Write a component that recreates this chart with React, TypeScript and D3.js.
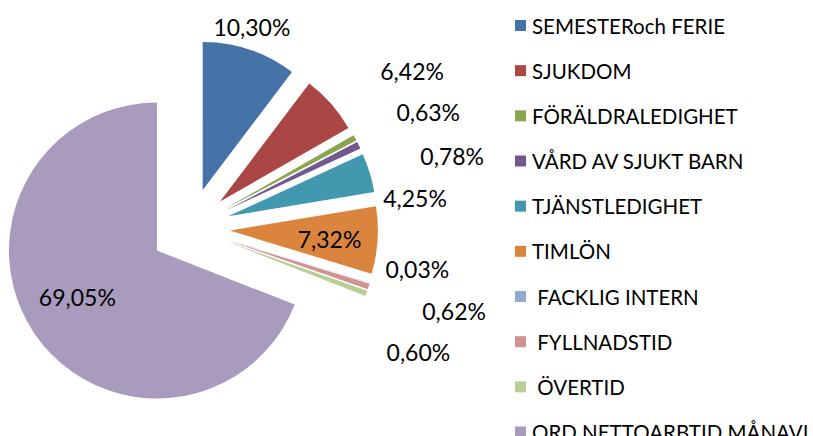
import React from "react";
import * as d3 from "d3";

const categories = [
  "SEMESTERoch FERIE",
  "SJUKDOM",
  "FÖRÄLDRALEDIGHET",
  "VÅRD AV SJUKT BARN",
  "TJÄNSTLEDIGHET",
  "TIMLÖN",
  " FACKLIG INTERN",
  " FYLLNADSTID",
  " ÖVERTID",
  "ORD NETTOARBTID MÅNAVL",
];
const values = [10.3, 6.42, 0.63, 0.78, 4.25, 7.32, 0.03, 0.62, 0.6, 69.05];
const valueLabels = ["10,30%", "6,42%", "0,63%", "0,78%", "4,25%", "7,32%", "0,03%", "0,62%", "0,60%", "69,05%"];
const colors = [
  "#4572A7", "#AA4643", "#89A54E", "#71588F", "#4198AF",
  "#DB843D", "#93A9CF", "#D19392", "#B9CD96", "#A99BBD",
];

// layout (label placement relative to slice bisector: angle offset in degrees, distance from centre)
const labelPlacement = [
  [-1.4, 210], [6.1, 272], [2.7, 265], [10.7, 272], [9.5, 227],
  [0.8, 140], [-6.8, 231], [-0.6, 277], [8.2, 260], [2.9, 132],
];

const W = 813, H = 436;
const cx = 190, cy = 228, R = 148, explode = 40;

export default function App() {
  const pie = d3.pie<number>().sort(null).value((d) => d).startAngle(0).endAngle(2 * Math.PI);
  const arcs = pie(values);
  const arc = d3.arc<d3.PieArcDatum<number>>().innerRadius(0).outerRadius(R);
  const legendY = d3.scaleLinear().domain([0, categories.length - 1]).range([25.5, 432]);

  return (
    <svg width={W} height={H} style={{ position: "absolute", left: 0, top: 0, background: "#fff" }}>
      <g transform={`translate(${cx},${cy})`}>
        {arcs.map((a, i) => {
          const mid = (a.startAngle + a.endAngle) / 2;
          const ox = explode * Math.sin(mid), oy = -explode * Math.cos(mid);
          return <path key={i} d={arc(a) || ""} fill={colors[i]} transform={`translate(${ox},${oy})`} />;
        })}
        {arcs.map((a, i) => {
          const mid = (a.startAngle + a.endAngle) / 2 + (labelPlacement[i][0] * Math.PI) / 180;
          const r = labelPlacement[i][1];
          return (
            <text key={i} x={r * Math.sin(mid)} y={-r * Math.cos(mid)} textAnchor="middle" dominantBaseline="central"
              fontFamily="Lato, 'Open Sans', sans-serif" fontSize={23} fill="#000">
              {valueLabels[i]}
            </text>
          );
        })}
      </g>
      {categories.map((c, i) => (
        <g key={c} transform={`translate(515,${legendY(i)})`}>
          <rect x={0} y={-5.5} width={11} height={11} fill={colors[i]} />
          <text x={17} y={0} dominantBaseline="central" fontFamily="Lato, 'Open Sans', sans-serif" fontSize={20.5}
            fill="#000" style={{ whiteSpace: "pre" }}>
            {c}
          </text>
        </g>
      ))}
    </svg>
  );
}
